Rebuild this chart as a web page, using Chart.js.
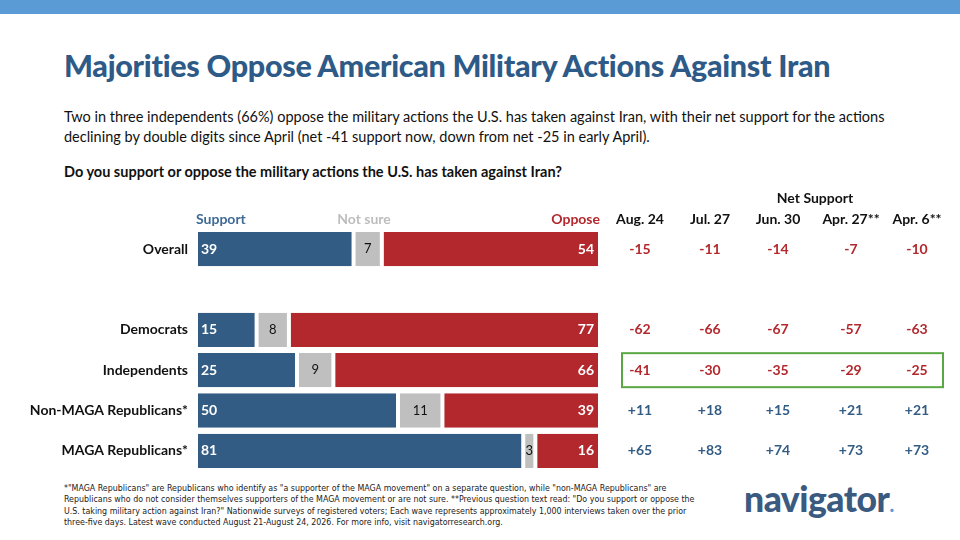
<!DOCTYPE html><html><head><meta charset="utf-8">
<script src="https://cdn.jsdelivr.net/npm/chart.js@4"></script>
<style>
body{margin:0;width:960px;height:540px;background:#fff;position:relative;overflow:hidden;font-family:Lato,"Open Sans",sans-serif}
#bar{position:absolute;left:0;top:0;width:960px;height:14px;background:#5b9bd5}
.t{position:absolute;white-space:nowrap}
</style></head><body>
<div id="bar"></div>
<div class="t" style="left:64px;top:47px;font-size:30.5px;font-weight:900;color:#2e5a87;letter-spacing:-0.3px">Majorities Oppose American Military Actions Against Iran</div>
<div class="t" style="left:64px;top:107px;font-size:14.5px;line-height:19.5px;color:#111">Two in three independents (66%) oppose the military actions the U.S. has taken against Iran, with their net support for the actions<br>declining by double digits since April (net -41 support now, down from net -25 in early April).</div>
<div class="t" style="left:64px;top:163px;font-size:14.5px;font-weight:bold;color:#111">Do you support or oppose the military actions the U.S. has taken against Iran?</div>
<div class="t" style="left:64px;top:483px;font-size:8.8px;line-height:11.3px;color:#222;font-family:'Liberation Sans Narrow','DejaVu Sans Condensed',sans-serif">*"MAGA Republicans" are Republicans who identify as "a supporter of the MAGA movement" on a separate question, while "non-MAGA Republicans" are<br>Republicans who do not consider themselves supporters of the MAGA movement or are not sure. **Previous question text read: "Do you support or oppose the<br>U.S. taking military action against Iran?" Nationwide surveys of registered voters; Each wave represents approximately 1,000 interviews taken over the prior<br>three-five days. Latest wave conducted August 21-August 24, 2026. For more info, visit navigatorresearch.org.</div>
<div class="t" style="left:744px;top:477px;font-size:35.5px;font-weight:900;color:#3a5a80;letter-spacing:-0.5px">navigator<span style="color:#5b9bd5;font-size:20px">.</span></div>
<canvas id="c" width="960" height="540" style="position:absolute;left:0;top:0"></canvas>
<script>
const categories=['Overall','','Democrats','Independents','Non-MAGA Republicans*','MAGA Republicans*'];
const support=[39,null,15,25,50,81];
const notSure=[7,null,8,9,11,3];
const oppose=[54,null,77,66,39,16];
const waves=['Aug. 24','Jul. 27','Jun. 30','Apr. 27**','Apr. 6**'];
const net=[[-15,-11,-14,-7,-10],null,[-62,-66,-67,-57,-63],[-41,-30,-35,-29,-25],[11,18,15,21,21],[65,83,74,73,73]];
const BLUE='#335c85',GRAY='#bfbfbf',RED='#b3282d';
const netX=[640,710,778,851,917];
const labels={id:'labels',afterDraw(ch){
 const c=ch.ctx,x=ch.scales.x,y=ch.scales.y;c.save();c.textBaseline='middle';
 categories.forEach((cat,i)=>{const py=y.getPixelForValue(i);
  c.font='bold 14px Lato';c.fillStyle='#111';c.textAlign='right';c.fillText(cat,188,py);
  if(support[i]==null)return;
  c.font='bold 14px Lato';c.fillStyle='#fff';c.textAlign='left';c.fillText(support[i],x.getPixelForValue(0)+5,py);
  c.font='13px Lato';c.fillStyle='#111';c.textAlign='center';c.fillText(notSure[i],x.getPixelForValue(support[i]+notSure[i]/2),py);
  c.font='bold 14px Lato';c.fillStyle='#fff';c.textAlign='right';c.fillText(oppose[i],x.getPixelForValue(100)-6,py);
  c.textAlign='center';
  net[i].forEach((v,j)=>{c.fillStyle=v<0?RED:BLUE;c.fillText((v>0?'+':'')+v,netX[j],py);});
 });
 c.font='bold 14px Lato';c.textAlign='left';c.fillStyle='#3f6a96';c.fillText('Support',196,219);
 c.textAlign='center';c.fillStyle='#bdbdbd';c.fillText('Not sure',364,219);
 c.textAlign='right';c.fillStyle=RED;c.fillText('Oppose',600,219);
 c.textAlign='center';c.fillStyle='#111';
 waves.forEach((w,j)=>c.fillText(w,netX[j],219));c.fillText('Net Support',815,198);
 const iy=y.getPixelForValue(3);c.strokeStyle='#5aa845';c.lineWidth=2;c.strokeRect(622,iy-17,321,34);
 c.restore();}};
new Chart(document.getElementById('c'),{type:'bar',
 data:{labels:categories,datasets:[
  {label:'Support',data:support,backgroundColor:BLUE},
  {label:'Not sure',data:notSure,backgroundColor:GRAY},
  {label:'Oppose',data:oppose,backgroundColor:RED}].map(d=>Object.assign(d,{borderColor:'#fff',borderWidth:{left:2,right:2},borderSkipped:false,categoryPercentage:1,barPercentage:0.85}))},
 options:{indexAxis:'y',responsive:false,animation:false,
  layout:{padding:{left:196,right:360,top:229,bottom:69}},
  plugins:{legend:{display:false},tooltip:{enabled:false}},
  scales:{x:{stacked:true,min:0,max:100,display:false},y:{stacked:true,display:false}}},
 plugins:[labels]});
</script></body></html>
